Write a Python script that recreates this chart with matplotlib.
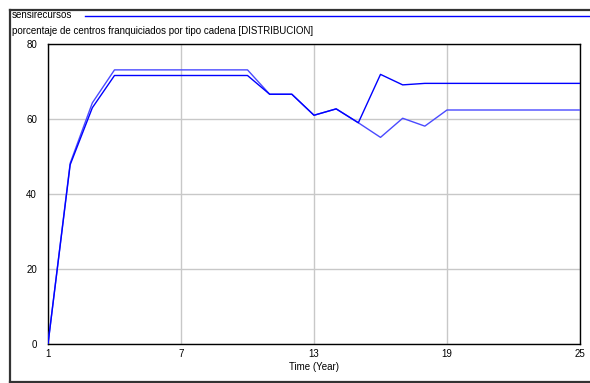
import matplotlib
matplotlib.use("Agg")
import matplotlib.pyplot as plt
from matplotlib.lines import Line2D

# Data
time_a = [1, 2, 3, 4, 5, 6, 7, 8, 9, 10, 11, 12, 13, 14, 15, 16, 17, 18, 19, 20, 21, 22, 23, 24, 25]
series_a = [0, 47.8, 63.0, 71.6, 71.6, 71.6, 71.6, 71.6, 71.6, 71.6, 66.6, 66.6, 61.0, 62.7, 59.0,
            71.9, 69.1, 69.5, 69.5, 69.5, 69.5, 69.5, 69.5, 69.5, 69.5]
time_b = [1, 2, 3, 4, 5, 6, 7, 8, 9, 10, 11, 12, 13, 14, 15, 16, 17, 18, 19, 20, 21, 22, 23, 24, 25]
series_b = [0, 48.2, 64.3, 73.1, 73.1, 73.1, 73.1, 73.1, 73.1, 73.1, 66.6, 66.6, 61.0, 62.7, 59.0,
            55.1, 60.2, 58.1, 62.4, 62.4, 62.4, 62.4, 62.4, 62.4, 62.4]
xticks = [1, 7, 13, 19, 25]
yticks = [0, 20, 40, 60, 80]
legend_label = "sensirecursos"
title_text = "porcentaje de centros franquiciados por tipo cadena [DISTRIBUCION]"
xlabel_text = "Time (Year)"

W, H = 590, 383
FS = 7.0
FAM = "Liberation Sans"
fig = plt.figure(figsize=(W / 100, H / 100), dpi=100)
fig.patch.set_facecolor("white")

ax = fig.add_axes([48 / W, (H - 344) / H, (580 - 48) / W, (344 - 44) / H])
ax.plot(time_b, series_b, color="#4a4aff", lw=1.0, zorder=3)
ax.plot(time_a, series_a, color="#0000ff", lw=1.0, zorder=4)

ax.set_xlim(1, 25)
ax.set_ylim(0, 80)
ax.set_xticks(xticks)
ax.set_yticks(yticks)
ax.grid(True, color="#c8c8c8", lw=1.0)
ax.set_axisbelow(True)
for s in ax.spines.values():
    s.set_color("black")
    s.set_linewidth(1.0)
ax.tick_params(length=0, labelsize=FS, colors="black")
ax.tick_params(axis="y", pad=8)
ax.tick_params(axis="x", pad=3.5)
for lab in ax.get_xticklabels() + ax.get_yticklabels():
    lab.set_family(FAM)
ax.set_xlabel(xlabel_text, fontsize=FS, family=FAM, labelpad=2)

# Header texts
fig.text(12 / W, 1 - 15.5 / H, legend_label, fontsize=FS, family=FAM,
         va="center", ha="left")
fig.add_artist(Line2D([85 / W, 1.0], [1 - 16 / H, 1 - 16 / H], color="#0000ff", lw=1.0,
                      transform=fig.transFigure))
fig.text(12 / W, 1 - 31.5 / H, title_text, fontsize=FS, family=FAM,
         va="center", ha="left")

# Outer frame
fig.add_artist(Line2D([9.5 / W, 1.0], [1 - 9.8 / H, 1 - 9.8 / H], color="#333333", lw=1.6,
                      transform=fig.transFigure))
fig.add_artist(Line2D([9.5 / W, 9.5 / W], [1 - 9.5 / H, 1 - 381.5 / H], color="#333333", lw=1.6,
                      transform=fig.transFigure))
fig.add_artist(Line2D([9.5 / W, 1.0], [1 - 381.5 / H, 1 - 381.5 / H], color="#333333", lw=1.6,
                      transform=fig.transFigure))

fig.savefig("out.png", dpi=100)
